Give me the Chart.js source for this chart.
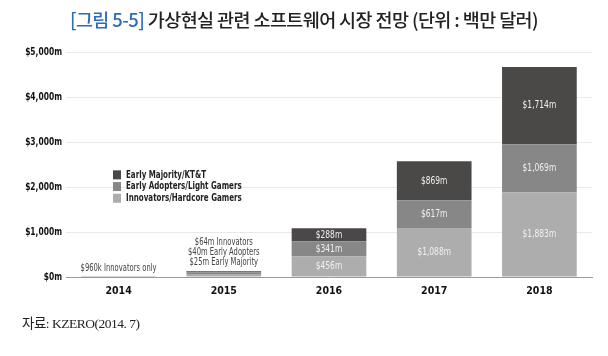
<!DOCTYPE html>
<html><head><meta charset="utf-8">
<script src="https://cdn.jsdelivr.net/npm/chart.js@4"></script>
<style>
html,body{margin:0;padding:0;background:#fff;}
#wrap{position:relative;width:608px;height:356px;overflow:hidden;}
#c{position:absolute;left:0;top:0;}
#title{position:absolute;left:0;top:6px;width:608px;text-align:center;font-family:"Noto Sans CJK KR","Noto Sans",sans-serif;font-size:18.5px;font-weight:500;color:#222;letter-spacing:-0.6px;}
#title span{color:#2d6db5;}
#src{position:absolute;left:22px;top:312px;font-family:"Liberation Serif","Noto Sans CJK KR",serif;font-size:13.5px;color:#222;letter-spacing:-0.5px;}
</style></head>
<body><div id="wrap">
<canvas id="c" width="608" height="356"></canvas>
<div id="title"><span>[그림 5-5]</span> 가상현실 관련 소프트웨어 시장 전망 (단위 : 백만 달러)</div>
<div id="src">자료: KZERO(2014. 7)</div>
</div>
<script>
const categories = ["2014","2015","2016","2017","2018"];
const innovators = [0.96, 64, 456, 1088, 1883];
const earlyAdopters = [0, 40, 341, 617, 1069];
const earlyMajority = [0, 25, 288, 869, 1714];
const seriesNames = ["Innovators/Hardcore Gamers","Early Adopters/Light Gamers","Early Majority/KT&T"];
const yTicks = [0,1000,2000,3000,4000,5000];
const notes = [["$960k Innovators only"],["$64m Innovators","$40m Early Adopters","$25m Early Majority"],[],[],[]];
const labelFrom = 2;

const colors = ["#adadad","#878787","#4b4848"];
const narrow = '"DejaVu Sans Condensed","Liberation Sans Narrow","DejaVu Sans",sans-serif';

function fmt(v){ return "$" + Math.round(v).toLocaleString("en-US") + "m"; }
function txt(ctx,t,x,y,sx){ ctx.save(); ctx.translate(x,y); ctx.scale(sx,1); ctx.fillText(t,0,0); ctx.restore(); }

function squeeze(sx, pivotFn){
  return function(s){
    if(s._sq) return;
    s._sq = true;
    const orig = s.drawLabels.bind(s);
    s.drawLabels = function(ca){
      const ctx = this.ctx, p = pivotFn(this);
      ctx.save(); ctx.translate(p,0); ctx.scale(sx,1); ctx.translate(-p,0);
      orig(ca); ctx.restore();
    };
  };
}

const segLabels = {
  id:"segLabels",
  afterDatasetsDraw(chart){
    const ctx = chart.ctx;
    ctx.save();
    ctx.textAlign="center"; ctx.textBaseline="middle";
    ctx.font = "11px " + narrow;
    ctx.fillStyle="#f0f0f0";
    chart.data.datasets.forEach((ds,di)=>{
      const meta = chart.getDatasetMeta(di);
      meta.data.forEach((bar,i)=>{
        if(i<labelFrom) return;
        const y = (bar.y + bar.base)/2;
        txt(ctx, fmt(ds.data[i]), bar.x, y, 0.76);
      });
    });
    const meta0 = chart.getDatasetMeta(chart.data.datasets.length-1);
    ctx.fillStyle="#444";
    ctx.font = "10.5px " + narrow;
    ctx.textBaseline="alphabetic";
    notes.forEach((lines,i)=>{
      if(!lines.length) return;
      const bar = meta0.data[i];
      const top = Math.min(bar.y, bar.base) - 6;
      lines.slice().reverse().forEach((t,k)=>{
        txt(ctx, t, bar.x, top - k*10, 0.72);
      });
    });
    const xs = chart.scales.x, ys = chart.scales.y;
    const lx = xs.left + 47, ly0 = ys.getPixelForValue(2270);
    ctx.textAlign="left"; ctx.textBaseline="middle";
    ctx.font = "bold 11px " + narrow;
    const order = [2,1,0];
    order.forEach((di,k)=>{
      const y = ly0 + k*11.7;
      ctx.fillStyle = chart.data.datasets[di].backgroundColor;
      ctx.fillRect(lx, y-4.5, 8, 9);
      ctx.fillStyle = "#222";
      txt(ctx, chart.data.datasets[di].label, lx+13, y, 0.72);
    });
    ctx.restore();
  }
};

new Chart(document.getElementById("c"),{
  type:"bar",
  data:{
    labels:categories,
    datasets:[
      {label:seriesNames[0],data:innovators,backgroundColor:colors[0]},
      {label:seriesNames[1],data:earlyAdopters,backgroundColor:colors[1]},
      {label:seriesNames[2],data:earlyMajority,backgroundColor:colors[2]}
    ]
  },
  options:{
    responsive:false,animation:false,
    layout:{padding:{left:0,right:16,top:52,bottom:54}},
    datasets:{bar:{categoryPercentage:0.71,barPercentage:1,borderWidth:0}},
    plugins:{legend:{display:false},tooltip:{enabled:false},title:{display:false}},
    scales:{
      x:{stacked:true,
        grid:{display:false,drawTicks:false},
        border:{display:true,color:"#9a9a9a",width:1},
        ticks:{color:"#111",font:{family:narrow,size:10.5,weight:"bold"},padding:8},
        afterFit(s){s.height=25;}
      },
      y:{stacked:true,min:0,max:5000,
        afterBuildTicks(s){s.ticks=yTicks.map(v=>({value:v}));},
        grid:{color:"#e9e9e9",drawTicks:false,lineWidth:1},
        border:{display:false},
        ticks:{color:"#111",font:{family:narrow,size:11,weight:"bold"},padding:4,
          callback:v=>"$"+v.toLocaleString("en-US")+"m"},
        afterFit(s){s.width=66;},
        afterUpdate:squeeze(0.76, s=>s.right-4)
      }
    }
  },
  plugins:[segLabels]
});
</script>
</body></html>
